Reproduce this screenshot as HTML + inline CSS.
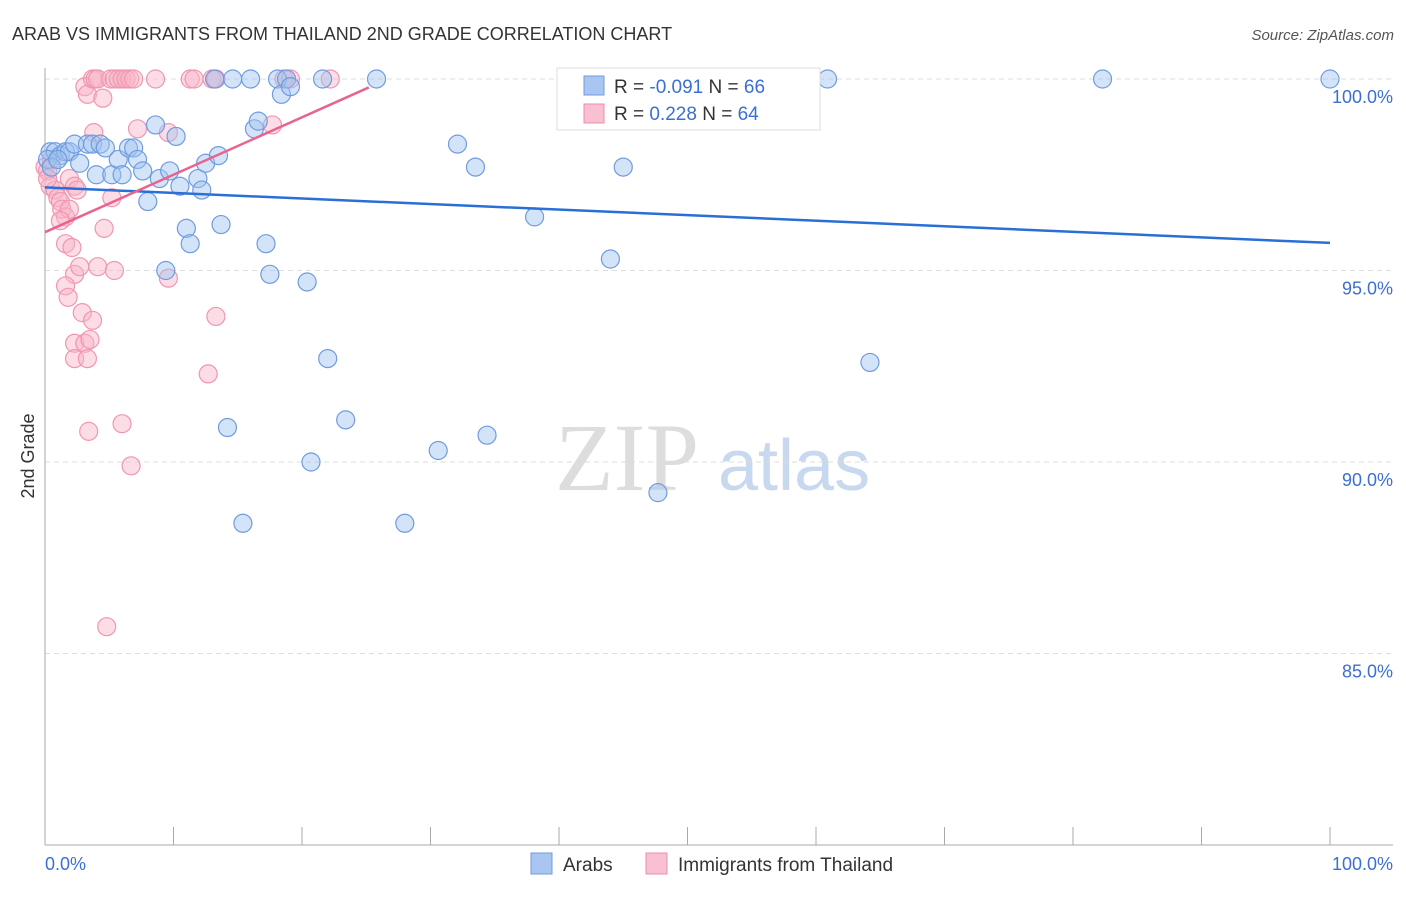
<!DOCTYPE html>
<html><head><meta charset="utf-8"><style>
body{margin:0;background:#fff;font-family:"Liberation Sans",sans-serif;}
</style></head><body>
<svg width="1406" height="892" xmlns="http://www.w3.org/2000/svg" id="svg">
<text x="12" y="40" font-size="18" fill="#333">ARAB VS IMMIGRANTS FROM THAILAND 2ND GRADE CORRELATION CHART</text>
<text x="1394" y="40" font-size="15" fill="#555" font-style="italic" text-anchor="end">Source: ZipAtlas.com</text>
<text x="555" y="490" font-size="96" fill="#ddd" font-family="Liberation Serif">ZIP</text>
<text x="718" y="490" font-size="72" fill="#c8d8ee">atlas</text>
<g id="grid"></g>
<line x1="45" y1="68" x2="45" y2="845" stroke="#aaa"/>
<line x1="45" y1="845" x2="1393" y2="845" stroke="#aaa"/>
<g id="xticks"></g>
<text x="34" y="456" font-size="18" fill="#333" transform="rotate(-90 34 456)" text-anchor="middle">2nd Grade</text>
<text x="45" y="870" font-size="18" fill="#3b6fd4">0.0%</text>
<text x="1393" y="870" font-size="18" fill="#3b6fd4" text-anchor="end">100.0%</text>
<g id="pts"></g>
<g id="lines"></g>
<g>
<rect x="557" y="68" width="263" height="62" fill="#fff" stroke="#ddd"/>
<rect x="584" y="76" width="20" height="19" fill="#a9c6f2" stroke="#6f9be0"/>
<rect x="584" y="104" width="20" height="19" fill="#f8c0d0" stroke="#ee8eaa"/>
<text x="614" y="93" font-size="19" fill="#333">R = <tspan fill="#3b6fd4">-0.091</tspan>   N = <tspan fill="#3b6fd4">66</tspan></text>
<text x="614" y="120" font-size="19" fill="#333">R =  <tspan fill="#3b6fd4">0.228</tspan>   N = <tspan fill="#3b6fd4">64</tspan></text>
</g>
<g>
<rect x="531" y="853" width="21" height="21" fill="#a9c6f2" stroke="#6f9be0"/>
<text x="563" y="871" font-size="19" fill="#333">Arabs</text>
<rect x="646" y="853" width="21" height="21" fill="#f8c0d0" stroke="#ee8eaa"/>
<text x="678" y="871" font-size="19" fill="#333">Immigrants from Thailand</text>
</g>
</svg>
<script>
const yTicks=[100,95,90,85];
const xTickVals=[0,10,20,30,40,50,60,70,80,90,100];
const arabX=[0.4,0.8,1.2,1.6,1.9,0.2,0.5,1.0,2.3,2.7,3.3,3.7,4.0,4.3,4.7,5.2,5.7,6.0,6.5,6.9,7.2,7.6,8.0,8.6,8.9,9.4,9.7,10.2,10.5,11.0,11.3,11.9,12.2,12.5,13.2,13.5,13.7,14.2,14.6,15.4,16.0,16.3,16.6,17.2,17.5,18.1,18.4,18.8,19.1,20.4,20.7,21.6,22.0,23.4,25.8,28.0,30.6,32.1,33.5,34.4,38.1,44.0,45.0,47.1,47.7,60.9,64.2,82.3,100];
const arabY=[98.1,98.1,98.0,98.1,98.1,97.9,97.7,97.9,98.3,97.8,98.3,98.3,97.5,98.3,98.2,97.5,97.9,97.5,98.2,98.2,97.9,97.6,96.8,98.8,97.4,95.0,97.6,98.5,97.2,96.1,95.7,97.4,97.1,97.8,100,98.0,96.2,90.9,100,88.4,100,98.7,98.9,95.7,94.9,100,99.6,100,99.8,94.7,90.0,100,92.7,91.1,100,88.4,90.3,98.3,97.7,90.7,96.4,95.3,97.7,100,89.2,100,92.6,100,100];
const thaiX=[0,0.2,0.4,0.8,1.0,1.2,1.3,1.6,1.9,2.3,2.5,0.2,0.5,3.1,3.3,3.7,3.9,4.1,4.5,5.1,5.4,5.7,6.0,6.3,6.6,6.9,8.6,11.3,11.6,13.0,13.3,18.6,19.1,22.2,3.8,7.2,9.6,17.7,1.6,2.1,2.3,2.7,1.6,1.8,4.1,5.4,9.6,2.9,3.7,2.3,3.1,3.5,2.3,3.3,13.3,12.7,3.4,6.0,6.7,4.8,4.6,5.2,1.9,1.2];
const thaiY=[97.7,97.6,97.2,97.1,96.9,96.8,96.6,96.4,97.4,97.2,97.1,97.4,97.9,99.8,99.6,100,100,100,99.5,100,100,100,100,100,100,100,100,100,100,100,100,100,100,100,98.6,98.7,98.6,98.8,95.7,95.6,94.9,95.1,94.6,94.3,95.1,95.0,94.8,93.9,93.7,93.1,93.1,93.2,92.7,92.7,93.8,92.3,90.8,91.0,89.9,85.7,96.1,96.9,96.6,96.3];
const arabLine=[[0,97.17],[100,95.72]];
const thaiLine=[[0,96.0],[25.2,99.78]];
const NS="http://www.w3.org/2000/svg";
const X=v=>45+v*12.85, Y=v=>79+(100-v)*38.3;
const mk=(t,a,p)=>{const e=document.createElementNS(NS,t);for(const k in a)e.setAttribute(k,a[k]);p.appendChild(e);return e;};
const grid=document.getElementById('grid');
yTicks.forEach(t=>{
 const l=mk('line',{x1:45,x2:1393,y1:Y(t),y2:Y(t),stroke:'#ddd','stroke-dasharray':'5,4'},grid);
 
 
 const tx=mk('text',{x:1393,y:Y(t)+24,'font-size':18,fill:'#3b6fd4','text-anchor':'end'},grid);
 tx.textContent=t.toFixed(1)+'%';
 
 
});
const xt=document.getElementById('xticks');
xTickVals.forEach(t=>{
 const l=mk('line',{x1:X(t),x2:X(t),y1:827,y2:845,stroke:'#aaa'},xt);
 
 
});
const pts=document.getElementById('pts');
thaiX.forEach((x,i)=>{
 const c=mk('circle',{cx:X(x),cy:Y(thaiY[i]),r:9,fill:'rgba(248,180,200,0.45)',stroke:'#f096b0','stroke-width':1.2},pts);
 
 
});
arabX.forEach((x,i)=>{
 const c=mk('circle',{cx:X(x),cy:Y(arabY[i]),r:9,fill:'rgba(160,195,240,0.45)',stroke:'#6f9be0','stroke-width':1.2},pts);
 
 
});
const ln=document.getElementById('lines');
const a=mk('line',{x1:X(arabLine[0][0]),y1:Y(arabLine[0][1]),x2:X(arabLine[1][0]),y2:Y(arabLine[1][1]),stroke:'#2a6fd6','stroke-width':2.5},ln);


const b=mk('line',{x1:X(thaiLine[0][0]),y1:Y(thaiLine[0][1]),x2:X(thaiLine[1][0]),y2:Y(thaiLine[1][1]),stroke:'#e8648e','stroke-width':2.5},ln);


</script>
</body></html>
